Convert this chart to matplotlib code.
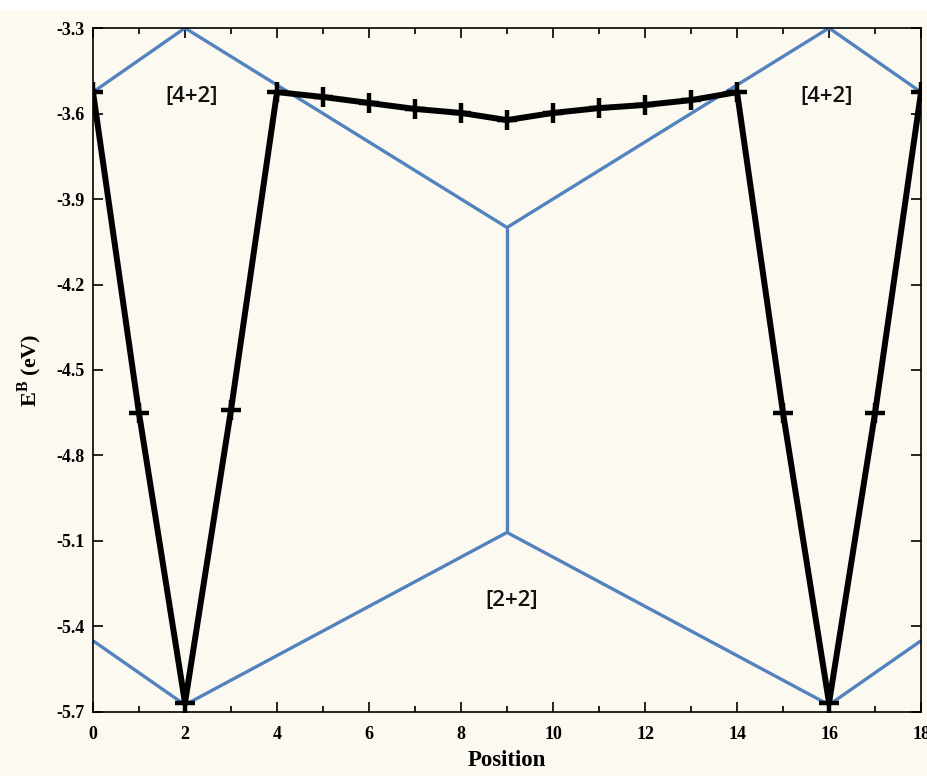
import matplotlib.pyplot as plt
from matplotlib.patches import Rectangle
from matplotlib.ticker import MultipleLocator

plt.rcParams['mathtext.fontset'] = 'custom'
plt.rcParams['mathtext.rm'] = 'Liberation Serif:bold'
plt.rcParams['mathtext.bf'] = 'Liberation Serif:bold'

# black curve (binding energy vs position)
pos = list(range(19))
energy = [-3.525, -4.651, -5.668, -4.640, -3.525, -3.542, -3.563, -3.584, -3.598,
          -3.623, -3.598, -3.581, -3.570, -3.553, -3.525, -4.651, -5.668, -4.651, -3.525]

# blue boundary lines
upper_x = [0, 2, 9, 16, 18]
upper_y = [-3.525, -3.3, -4.0, -3.3, -3.525]
mid_x = [9, 9]
mid_y = [-4.0, -5.07]
lower_x = [0, 2, 9, 16, 18]
lower_y = [-5.45, -5.675, -5.07, -5.675, -5.45]

region_labels = ['[4+2]', '[4+2]', '[2+2]']
label_x = [2.15, 15.95, 9.1]
label_y = [-3.54, -3.54, -5.31]

yticks = [-5.7, -5.4, -5.1, -4.8, -4.5, -4.2, -3.9, -3.6, -3.3]

bg = '#FCF9F0'
blue = '#5383BE'

fig = plt.figure(figsize=(9.28, 7.76), dpi=100, facecolor=bg)
fig.patches.append(Rectangle((0, 0.987), 1, 0.013, transform=fig.transFigure,
                             facecolor='white', edgecolor='none', zorder=-1))
ax = fig.add_axes([0.1002, 0.0825, 0.8923, 0.8814])
ax.set_facecolor(bg)

for xs, ys in [(upper_x, upper_y), (mid_x, mid_y), (lower_x, lower_y)]:
    ax.plot(xs, ys, color=blue, lw=2.4, solid_capstyle='butt', zorder=2)

ax.plot(pos, energy, color='black', lw=4.3, marker='+', markersize=14,
        markeredgewidth=3.2, zorder=3)

for t, x, y in zip(region_labels, label_x, label_y):
    ax.text(x, y, t, ha='center', va='center', fontsize=16, family='Open Sans',
            fontweight='semibold', color='#111111')

ax.set_xlim(0, 18)
ax.set_ylim(-5.7, -3.3)
ax.xaxis.set_major_locator(MultipleLocator(2))
ax.xaxis.set_minor_locator(MultipleLocator(1))
ax.set_yticks(yticks)
ax.set_yticklabels([f'{v:.1f}' for v in yticks])
ax.tick_params(which='both', direction='in', top=True, right=True, width=1.2)
ax.tick_params(which='major', length=7)
ax.tick_params(which='minor', length=4)
ax.tick_params(axis='x', pad=10)
ax.tick_params(axis='y', pad=6)
for lbl in ax.get_xticklabels() + ax.get_yticklabels():
    lbl.set_family('Liberation Serif')
    lbl.set_fontweight('bold')
    lbl.set_fontsize(13)
for s in ax.spines.values():
    s.set_linewidth(1.2)

ax.set_xlabel('Position', family='Liberation Serif', fontweight='bold', fontsize=16.5, labelpad=5)
ax.set_ylabel(r'E$^{\mathbf{B}}$ (eV)', family='Liberation Serif', fontweight='bold',
              fontsize=16, labelpad=9)

fig.savefig('out.png', dpi=100, facecolor=bg)
